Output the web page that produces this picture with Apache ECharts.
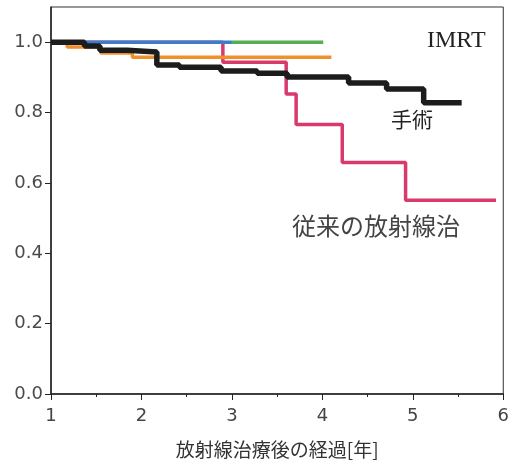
<!DOCTYPE html>
<html>
<head>
<meta charset="utf-8">
<script src="https://cdn.jsdelivr.net/npm/echarts@6/dist/echarts.min.js"></script>
<style>
    html, body {margin: 0; padding: 0; background: #fff;}
    #chartBox {width: 512px; height: 464px;}
</style>
</head>
<body>
<div id="chartBox"></div>
<script>
// 経過年数と生存率 (step 'end')
let surgeryX = [1, 1.37, 1.54, 1.84, 2.17, 2.42, 2.88, 3.28, 3.61, 4.29, 4.71, 5.12, 5.54];
let surgeryY = [1.0, 0.989, 0.977, 0.972, 0.935, 0.929, 0.918, 0.912, 0.901, 0.884, 0.867, 0.828, 0.828];

let convX = [1, 2.9, 3.6, 3.71, 4.22, 4.92, 5.92];
let convY = [1.0, 0.943, 0.853, 0.766, 0.658, 0.551, 0.551];

let blueX = [1, 3.0];
let blueY = [1.0, 1.0];

let greenX = [3.0, 4.01];
let greenY = [1.0, 1.0];

let orangeX = [1, 1.18, 1.55, 1.9, 4.1];
let orangeY = [1.0, 0.986, 0.969, 0.957, 0.957];

let xTicks = [1, 2, 3, 4, 5, 6];
let yTicks = [0.0, 0.2, 0.4, 0.6, 0.8, 1.0];

function pairs(xs, ys) {
    return xs.map(function (x, i) { return [x, ys[i]]; });
}

function stepLine(name, xs, ys, color, width, z) {
    return {
        name: name, type: 'line', step: 'end', showSymbol: false, symbol: 'none',
        lineStyle: {color: color, width: width}, z: z,
        data: pairs(xs, ys)
    };
}

let chartBox = echarts.init(document.getElementById('chartBox'));
let option = {
    animation: false,
    grid: {left: 51, right: 7, top: 7, bottom: 67, show: true, borderColor: '#333', borderWidth: 1},
    xAxis: {
        type: 'value', min: xTicks[0], max: xTicks[xTicks.length - 1], interval: 1,
        name: '放射線治療後の経過[年]', nameLocation: 'middle', nameGap: 46,
        nameTextStyle: {color: '#333', fontSize: 19, fontFamily: 'Noto Sans CJK JP'},
        axisLine: {lineStyle: {color: '#222', width: 1.5}},
        axisTick: {length: 6, lineStyle: {color: '#222'}},
        minorTick: {show: true, splitNumber: 2, length: 3, lineStyle: {color: '#222'}},
        axisLabel: {color: '#444', fontSize: 18, fontFamily: 'DejaVu Sans', margin: 13},
        splitLine: {show: false}
    },
    yAxis: {
        type: 'value', min: yTicks[0], max: 1.1, interval: 0.2,
        axisLine: {show: true, lineStyle: {color: '#222', width: 1.5}},
        axisTick: {show: true, length: 6, lineStyle: {color: '#222'}},
        axisLabel: {
            color: '#4a4a4a', fontSize: 18, fontFamily: 'DejaVu Sans', margin: 8, showMaxLabel: false,
            formatter: function (v) { return yTicks.some(function (t) { return Math.abs(t - v) < 1e-6; }) ? v.toFixed(1) : ''; }
        },
        splitLine: {show: false}
    },
    graphic: [
        {type: 'text', left: 427, top: 29, style: {text: 'IMRT', fill: '#222', font: '24px "Liberation Serif"'}},
        {type: 'text', left: 391, top: 109, style: {text: '手術', fill: '#222', font: '21px "Noto Sans CJK JP"'}},
        {type: 'text', left: 292, top: 214, style: {text: '従来の放射線治', fill: '#444', font: '24px "Noto Sans CJK JP"'}}
    ],
    series: [
        stepLine('従来の放射線治', convX, convY, '#d83a6c', 3.5, 2),
        stepLine('orange', orangeX, orangeY, '#f0902a', 3.5, 3),
        stepLine('blue', blueX, blueY, '#3a7dc9', 3.5, 4),
        stepLine('IMRT', greenX, greenY, '#55ad55', 3.5, 4),
        stepLine('手術', surgeryX, surgeryY, '#1c1c1c', 5.5, 5)
    ]
};
chartBox.setOption(option, true);
</script>
</body>
</html>
